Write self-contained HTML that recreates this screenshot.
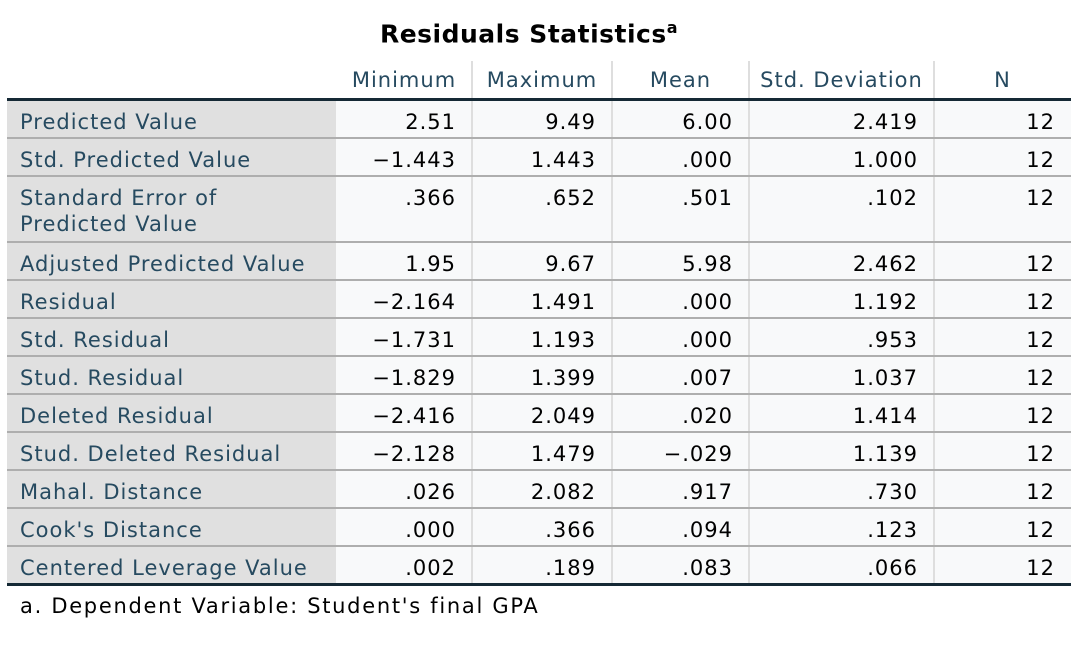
<!DOCTYPE html>
<html><head><meta charset="utf-8"><style>
body{margin:0;width:1092px;height:648px;background:#fff;position:relative;overflow:hidden;font-family:"DejaVu Sans","Liberation Sans",sans-serif;}
.a{position:absolute;}
.t{position:absolute;font-size:21px;letter-spacing:1px;white-space:nowrap;line-height:24px;}
</style></head><body>
<div class="a" style="left:-17px;width:1092px;top:18px;text-align:center;font-size:25px;letter-spacing:0.5px;font-weight:bold;color:#000;">Residuals Statistics<sup style="font-size:16px">a</sup></div>
<div id="tbl"></div>
<div class="t" style="left:20px;top:594px;color:#000;letter-spacing:1.7px">a. Dependent Variable: Student's final GPA</div>
<script>
const cols=["Minimum","Maximum","Mean","Std. Deviation","N"];
const rowLabels=["Predicted Value","Std. Predicted Value","Standard Error of<br>Predicted Value","Adjusted Predicted Value","Residual","Std. Residual","Stud. Residual","Deleted Residual","Stud. Deleted Residual","Mahal. Distance","Cook's Distance","Centered Leverage Value"];
const minV=["2.51","−1.443",".366","1.95","−2.164","−1.731","−1.829","−2.416","−2.128",".026",".000",".002"];
const maxV=["9.49","1.443",".652","9.67","1.491","1.193","1.399","2.049","1.479","2.082",".366",".189"];
const meanV=["6.00",".000",".501","5.98",".000",".000",".007",".020","−.029",".917",".094",".083"];
const sdV=["2.419","1.000",".102","2.462","1.192",".953","1.037","1.414","1.139",".730",".123",".066"];
const nV=["12","12","12","12","12","12","12","12","12","12","12","12"];
const series=[minV,maxV,meanV,sdV,nV];
const xs=[7,336,472,612,749,934,1071];
const rowTops=[100,138,176,242,280,318,356,394,432,470,508,546,584];
const T=document.getElementById('tbl');
function div(st,name,html,cls){const d=document.createElement('div');d.className=cls||'a';d.style.cssText=st;if(html!==undefined)d.innerHTML=html;


T.appendChild(d);return d;}
div(`left:${xs[0]}px;top:100px;width:${xs[1]-xs[0]}px;height:484px;background:#e0e0e0`,'label-column-bg');
div(`left:${xs[1]}px;top:100px;width:${xs[6]-xs[1]}px;height:484px;background:#f8f9fa`,'data-area-bg');
for(let i=2;i<6;i++)div(`left:${xs[i]-1}px;top:61px;width:2px;height:523px;background:#dedede`,'column-divider');
for(let r=1;r<12;r++)div(`left:${xs[0]}px;top:${rowTops[r]-1}px;width:${xs[6]-xs[0]}px;height:2px;background:#aeaeae`,'row-divider');
div(`left:${xs[0]}px;top:98px;width:${xs[6]-xs[0]}px;height:3px;background:#152935`,'header-rule');
div(`left:${xs[0]}px;top:583px;width:${xs[6]-xs[0]}px;height:3px;background:#152935`,'bottom-rule');
cols.forEach((c,i)=>{div(`left:${xs[i+1]}px;width:${xs[i+2]-xs[i+1]}px;top:68px;text-align:center;color:#264a60`,'column-header-'+c.toLowerCase().replace(/[^a-z]+/g,'-'),c,'t');});
rowLabels.forEach((l,r)=>{
 div(`left:20px;top:${rowTops[r]+9}px;color:#264a60;line-height:26px`,'row-label',l,'t');
 series.forEach((s,i)=>{div(`left:${xs[i+1]}px;width:${xs[i+2]-xs[i+1]-16}px;top:${rowTops[r]+9}px;text-align:right;color:#000;line-height:26px`,'cell-value',s[r],'t');});
});
</script>
</body></html>
